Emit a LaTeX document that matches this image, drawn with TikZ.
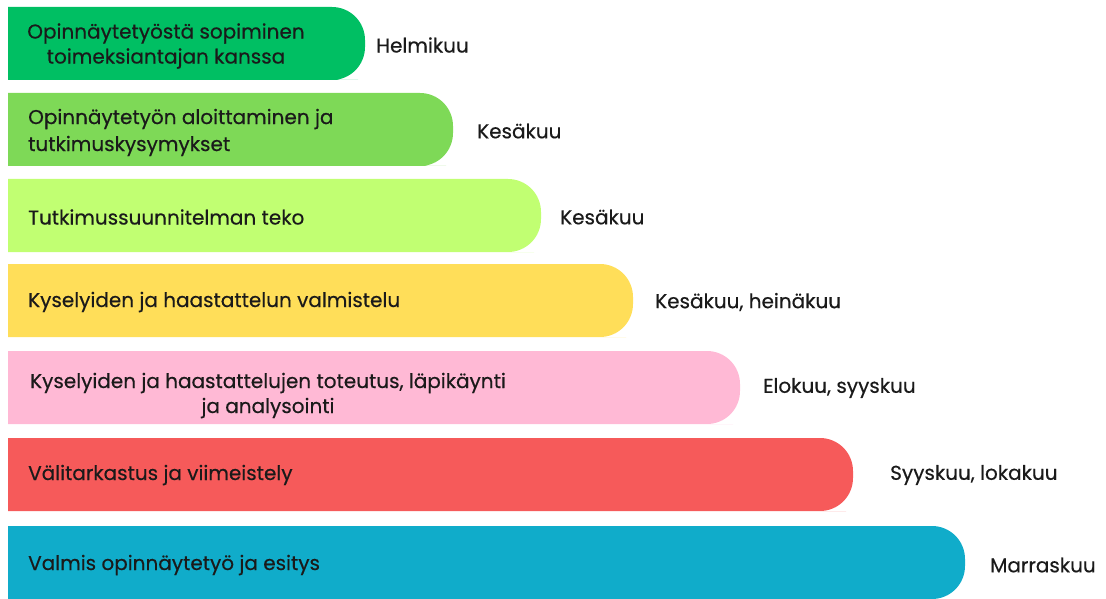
\documentclass[tikz,border=0pt]{standalone}
\usepackage{fontspec}
\setmainfont{Poppins}[FakeBold=0.4]
\definecolor{cA}{HTML}{00BF63}
\definecolor{cB}{HTML}{7ED957}
\definecolor{cC}{HTML}{C1FF72}
\definecolor{cD}{HTML}{FFDE59}
\definecolor{cE}{HTML}{FFB9D5}
\definecolor{cF}{HTML}{F65A5A}
\definecolor{cG}{HTML}{10ACCA}
\definecolor{ink}{HTML}{1A1A1A}
\newcommand\mybar[3]{%
  \fill[#3] (8,#1) -- ({#2-40},#1) [rounded corners=33pt] -- (#2,#1) -- (#2,{#1+73}) -- ({#2-40},{#1+73}) [sharp corners] -- (8,{#1+73}) -- cycle;}
\begin{document}
\begin{tikzpicture}[x=1pt,y=-1pt,
  bt/.style={anchor=west, font=\fontsize{20}{27}\selectfont, text=ink, align=left, inner sep=0pt},
  btc/.style={bt, anchor=center, align=center},
  lbl/.style={anchor=west, font=\fontsize{20}{27}\selectfont, text=ink, inner sep=0pt}]
\useasboundingbox (0,0) rectangle (1106,599);
\mybar{7}{365}{cA}
\mybar{93}{453}{cB}
\mybar{179}{541}{cC}
\mybar{264}{633}{cD}
\mybar{351}{740}{cE}
\mybar{438}{853}{cF}
\mybar{526}{965}{cG}
\node[btc, font=\fontsize{20}{25}\selectfont] (t1) at (166,46) {Opinnäytetyöstä sopiminen\\toimeksiantajan kanssa};
\node[bt] (t2) at (28,132.5) {Opinnäytetyön aloittaminen ja\\tutkimuskysymykset};
\node[bt] (t3) at (28,217) {Tutkimussuunnitelman teko};
\node[bt] (t4) at (28,302) {Kyselyiden ja haastattelun valmistelu};
\node[btc, font=\fontsize{20}{25}\selectfont] (t5) at (268,395.5) {Kyselyiden ja haastattelujen toteutus, läpikäynti\\ja analysointi};
\node[bt] (t6) at (28,475) {Välitarkastus ja viimeistely};
\node[bt] (t7) at (28,565) {Valmis opinnäytetyö ja esitys};
\node[lbl] (l1) at (376,45) {Helmikuu};
\node[lbl] (l2) at (477,131) {Kesäkuu};
\node[lbl] (l3) at (560,217) {Kesäkuu};
\node[lbl] (l4) at (655,302) {Kesäkuu, heinäkuu};
\node[lbl] (l5) at (763,388) {Elokuu, syyskuu};
\node[lbl] (l6) at (890,475) {Syyskuu, lokakuu};
\node[lbl] (l7) at (990,565) {Marraskuu};
\end{tikzpicture}
\end{document}
